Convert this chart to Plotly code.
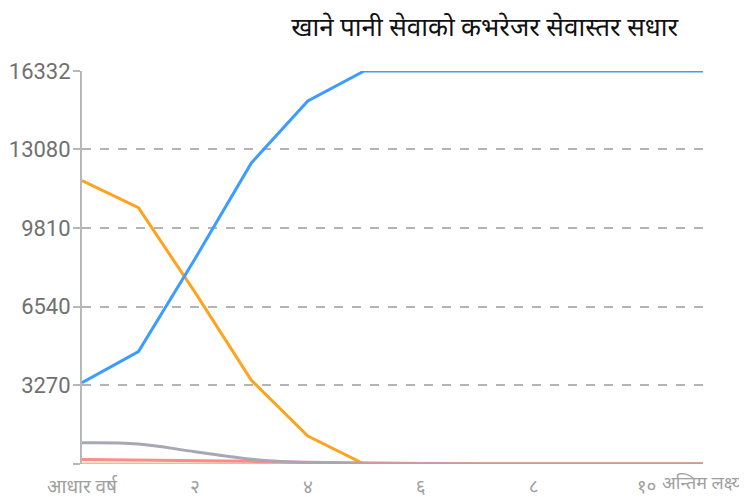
import plotly.graph_objects as go

x_index = list(range(12))
tick_positions = [0, 2, 4, 6, 8, 10]
tick_labels = ["आधार वर्ष", "२", "४", "६", "८", "१०"]
last_label = "अन्तिम लक्ष्य"
last_position = 11

y_ticks = [0, 3270, 6540, 9810, 13080, 16332]
y_tick_labels = ["", "3270", "6540", "9810", "13080", "16332"]

series_orange = [11780, 10650, 7140, 3480, 1160, 0, 0, 0, 0, 0, 0, 0]
series_tan = [0, 0, 0, 0, 0, 0, 0, 0, 0, 0, 0, 0]
series_pink = [190, 170, 140, 110, 70, 40, 0, 0, 0, 0, 0, 0]
series_gray = [880, 830, 510, 195, 50, 0, 0, 0, 0, 0, 0, 0]
series_blue = [3380, 4670, 8520, 12510, 15090, 16332, 16332, 16332, 16332, 16332, 16332, 16332]

fig = go.Figure()
def add(vals, color, width=3, shape="linear"):
    fig.add_trace(go.Scatter(x=x_index, y=vals, mode="lines",
                             line=dict(color=color, width=width, shape=shape),
                             hoverinfo="skip", showlegend=False))

add(series_orange, "#ffa31f")
add(series_tan, "#e6c28a")
add(series_pink, "#ff8a8a")
add(series_gray, "#a6a8b4", shape="spline")
add(series_blue, "#3d9cff")

fig.add_annotation(x=last_position, xref="x", y=0, yref="paper",
                   text=last_label, showarrow=False,
                   xanchor="right", yanchor="top", xshift=42, yshift=-6,
                   font=dict(size=18, color="#a0a0a0"))

fig.update_layout(
    width=739, height=489,
    margin=dict(l=74, r=44, t=63, b=33),
    paper_bgcolor="white", plot_bgcolor="white",
    font=dict(family="Roboto, 'Noto Sans', sans-serif"),
    title=dict(text="खाने पानी सेवाको कभरेजर सेवास्तर सधार",
               x=0.645, xanchor="center", xref="container",
               y=0.961, yanchor="middle", yref="container",
               font=dict(size=26, color="#111111")),
    xaxis=dict(range=[0, 11], tickmode="array", tickvals=tick_positions,
               ticktext=tick_labels, showgrid=False, zeroline=False,
               showline=False, ticks="outside", ticklen=5,
               tickcolor="rgba(0,0,0,0)", tickfont=dict(size=19, color="#a0a0a0"),
               automargin=False, fixedrange=True),
    yaxis=dict(range=[0, 16332], tickmode="array", tickvals=y_ticks,
               ticktext=y_tick_labels, showgrid=True, gridcolor="#b4b4b4",
               griddash="dash", gridwidth=1.5, zeroline=False,
               showline=True, linecolor="#b8b8b8", linewidth=2,
               ticks="outside", ticklen=7, tickcolor="#b8b8b8", tickwidth=1.5,
               ticklabelstandoff=-2,
               tickfont=dict(size=22, color="#707070"), automargin=False,
               fixedrange=True),
)

fig.write_html("out.html")
